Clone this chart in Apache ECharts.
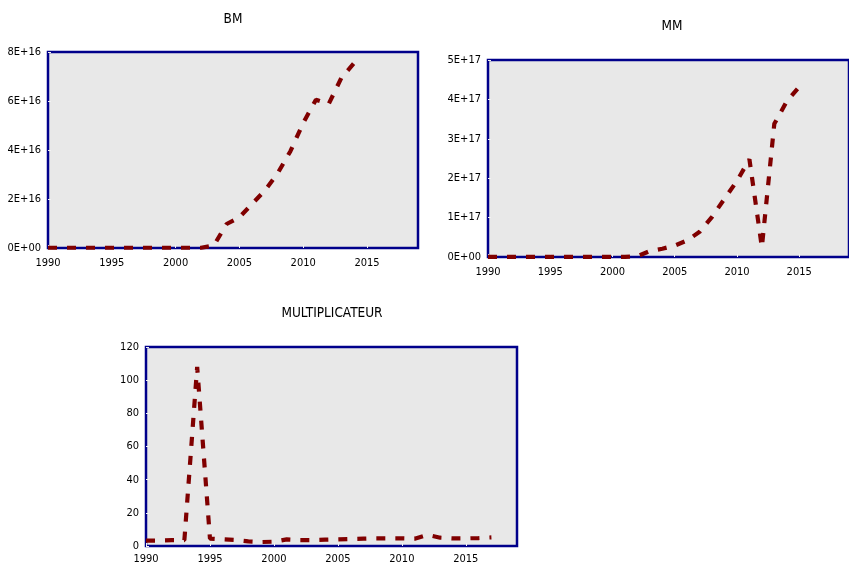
<!DOCTYPE html>
<html>
<head>
<meta charset="utf-8">
<script src="https://cdn.jsdelivr.net/npm/echarts@6/dist/echarts.min.js"></script>
<style>
html,body{margin:0;padding:0;background:#fff;}
#c{width:849px;height:568px;}
</style>
</head>
<body>
<div id="c"></div>
<script>
// ---- data ----
const bmYears = [1990,1991,1992,1993,1994,1995,1996,1997,1998,1999,2000,2001,2002,2003,2004,2005,2006,2007,2008,2009,2010,2011,2012,2013,2014];
const bmValues = [0.01e16,0.01e16,0.01e16,0.01e16,0.01e16,0.01e16,0.01e16,0.01e16,0.01e16,0.01e16,0.01e16,0.01e16,0.01e16,0.1e16,0.98e16,1.25e16,1.8e16,2.35e16,3.05e16,3.95e16,5.1e16,6.05e16,5.88e16,6.95e16,7.55e16];

const mmYears = [1990,1991,1992,1993,1994,1995,1996,1997,1998,1999,2000,2001,2002,2003,2004,2005,2006,2007,2008,2009,2010,2011,2012,2013,2014,2015];
const mmValues = [0.005e17,0.005e17,0.005e17,0.005e17,0.005e17,0.005e17,0.005e17,0.005e17,0.005e17,0.005e17,0.005e17,0.005e17,0.02e17,0.15e17,0.21e17,0.29e17,0.42e17,0.64e17,1.02e17,1.48e17,1.93e17,2.48e17,0.25e17,3.38e17,3.95e17,4.32e17];

const multYears = [1990,1991,1992,1993,1994,1995,1996,1997,1998,1999,2000,2001,2002,2003,2004,2005,2006,2007,2008,2009,2010,2011,2012,2013,2014,2015,2016,2017];
const multValues = [3.2,3.3,3.5,3.5,108,4.5,4.0,3.6,2.8,2.4,2.6,4.0,3.6,3.6,3.8,4.0,4.2,4.4,4.6,4.6,4.6,4.4,6.7,5.0,4.6,4.6,4.8,5.2];

const titles = ['BM','MM','MULTIPLICATEUR'];
const xTicks = {min:1990, max:2019, interval:5};
const yTicks = [
  {min:0, max:8e16, interval:2e16},
  {min:0, max:5e17, interval:1e17},
  {min:0, max:120, interval:20}
];

// ---- styling ----
const FONT = "'DejaVu Sans Condensed','Liberation Sans Narrow','Open Sans',sans-serif";
const TXT = '#000';
const LINE = '#800000';
const BORDER = '#00008b';
const BG = '#e8e8e8';

function sci(v){
  if (v === 0) return '0E+00';
  let s = v.toExponential(0).toUpperCase();
  const m = s.match(/^(-?\d)E([+-])(\d+)$/);
  if (!m) return s;
  let e = m[3].length < 2 ? '0' + m[3] : m[3];
  return m[1] + 'E' + m[2] + e;
}

const grids = [
  {left:48, top:52, width:370, height:196},
  {left:488, top:60, width:368, height:197},
  {left:146, top:347, width:371, height:199}
];
const titlePos = [
  {x:233, y:12},
  {x:672, y:19},
  {x:332, y:306}
];
const xMargin = [10, 10, 8];

const chart = echarts.init(document.getElementById('c'), null, {renderer:'canvas'});

const option = {
  animation:false,
  backgroundColor:'#fff',
  title: titles.map((t,i)=>({
    text:t, left:titlePos[i].x, top:titlePos[i].y, textAlign:'center', padding:0,
    textStyle:{fontFamily:FONT, fontSize:13.5, fontWeight:'normal', color:TXT}
  })),
  grid: grids.map(g=>Object.assign({
    show:true, backgroundColor:BG, borderColor:BORDER, borderWidth:2.5, containLabel:false
  }, g)),
  xAxis: grids.map((g,i)=>({
    type:'value', gridIndex:i, min:xTicks.min, max:xTicks.max, interval:xTicks.interval,
    axisLine:{show:false},
    axisTick:{show:true, inside:true, length:3, lineStyle:{color:'#f2f2f2', width:1}},
    splitLine:{show:false},
    axisLabel:{showMaxLabel:false, margin:xMargin[i], fontFamily:FONT, fontSize:11, color:TXT,
      formatter:v=>String(v)}
  })),
  yAxis: yTicks.map((y,i)=>({
    type:'value', gridIndex:i, min:y.min, max:y.max, interval:y.interval,
    axisLine:{show:false},
    axisTick:{show:true, inside:true, length:3, lineStyle:{color:'#f2f2f2', width:1}},
    splitLine:{show:false},
    axisLabel:{margin:7, fontFamily:FONT, fontSize:11, color:TXT,
      formatter: i===2 ? (v=>String(v)) : sci}
  })),
  series: [
    [bmYears,bmValues],[mmYears,mmValues],[multYears,multValues]
  ].map((d,i)=>({
    type:'line', xAxisIndex:i, yAxisIndex:i,
    data:d[0].map((yr,k)=>[yr,d[1][k]]),
    showSymbol:false, symbol:'none', smooth:false,
    lineStyle:{color:LINE, width:4.2, type:[9,10]},
    z:3
  }))
};
chart.setOption(option);
</script>
</body>
</html>
